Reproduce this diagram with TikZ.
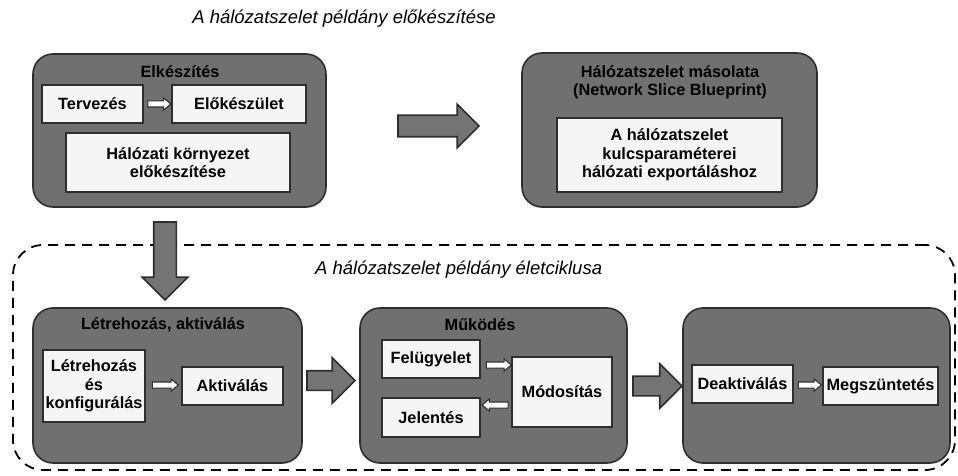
\documentclass[tikz,border=0pt]{standalone}
\usepackage{fontspec}
\setmainfont{Liberation Sans}
\usetikzlibrary{shapes.arrows,calc}

\definecolor{grpc}{HTML}{707070}
\definecolor{edgec}{HTML}{2E2E2E}
\definecolor{inc}{HTML}{F5F5F5}
\definecolor{arrc}{HTML}{747474}

\tikzset{
  txt/.style={font=\bfseries\fontsize{16.3}{18.5}\selectfont},
  grp/.style={draw=edgec, fill=grpc, line width=1.6pt, rounded corners=20pt, inner sep=0pt},
  inb/.style={txt, draw=edgec, fill=inc, line width=1.6pt, inner sep=0pt, align=center},
  ttl/.style={txt, align=center, inner sep=0pt},
  heading/.style={font=\itshape\fontsize{18.5}{22}\selectfont, inner sep=0pt},
  lifebox/.style={draw=black, line width=1.8pt, dash pattern=on 10pt off 7pt, rounded corners=30pt, inner sep=0pt},
  bigarr/.style={single arrow, draw=edgec, fill=arrc, line width=1.6pt,
    single arrow tip angle=90, inner xsep=0pt, inner ysep=#1, outer sep=0pt, anchor=tail},
  bigarr/.default=10pt,
  downarr/.style={single arrow, draw=edgec, fill=arrc, line width=1.6pt,
    single arrow tip angle=90, inner xsep=#1, inner ysep=0pt, outer sep=0pt,
    shape border rotate=270, anchor=tail},
  smallarr/.style={single arrow, draw=edgec, fill=white, line width=1.1pt,
    single arrow tip angle=80, single arrow head extend=3pt,
    inner xsep=0pt, inner ysep=2.5pt, outer sep=0pt},
}

\begin{document}
\begin{tikzpicture}[x=1pt,y=-1pt]
\useasboundingbox (0,0) rectangle (958,476);

% headings
\node[heading] (h1) at (344,19) {A hálózatszelet példány előkészítése};

% preparation group
\node[grp, minimum width=293pt, minimum height=153pt] (elk) at (179.5,130.5) {};
\node[ttl] (elkT) at (180,72) {Elkészítés};
\node[inb, minimum width=101pt, minimum height=38pt] (terv) at (92.5,104) {Tervezés};
\node[inb, minimum width=134pt, minimum height=38pt] (elok) at (239,104) {Előkészület};
\node[inb, minimum width=224pt, minimum height=59pt] (halo) at (178,162.5) {Hálózati környezet\\előkészítése};
\node[smallarr, minimum height=23pt] at ($(terv.east)!.5!(elok.west)$) {};

% blueprint group
\node[grp, minimum width=295pt, minimum height=154pt] (blue) at (669.5,130) {};
\node[ttl] (blueT) at (670,82) {Hálózatszelet másolata\\(Network Slice Blueprint)};
\node[inb, minimum width=225pt, minimum height=74pt] (blueIn) at (669.5,155)
  {A hálózatszelet\\kulcsparaméterei\\hálózati exportáláshoz};

% big arrow between the groups
\node[bigarr, single arrow head extend=11pt, minimum height=81pt] (a1) at (398,126) {};

% lifecycle frame
\node[lifebox, minimum width=942pt, minimum height=225pt] (life) at (484,357.5) {};
\node[heading, anchor=west] (h2) at (315,270) {A hálózatszelet példány életciklusa};

% arrow from preparation into the lifecycle
\node[downarr=10.5pt, single arrow head extend=11.5pt, minimum height=78pt] (a2) at (165,222) {};

% creation / activation
\node[grp, minimum width=269pt, minimum height=155pt] (letre) at (167.5,385.5) {};
\node[ttl] (letreT) at (163,325) {Létrehozás, aktiválás};
\node[inb, minimum width=102pt, minimum height=72pt] (lk) at (94,386) {Létrehozás\\és\\konfigurálás};
\node[inb, minimum width=101pt, minimum height=38pt] (akt) at (232.5,386) {Aktiválás};
\node[smallarr, minimum height=26pt] at ($(lk.east)!.5!(akt.west)+(0,-1)$) {};

% operation
\node[grp, minimum width=267pt, minimum height=155pt] (muk) at (493.5,385.5) {};
\node[ttl] (mukT) at (480,325) {Működés};
\node[inb, minimum width=98pt, minimum height=38pt] (fel) at (431,359) {Felügyelet};
\node[inb, minimum width=98pt, minimum height=39pt] (jel) at (431,417.5) {Jelentés};
\node[inb, minimum width=100pt, minimum height=70pt] (mod) at (562,392) {Módosítás};
\coordinate (fm) at (mod.west |- fel.east);
\coordinate (mj) at (mod.west |- jel.east);
\node[smallarr, minimum height=25pt] at ($(fel.east)!.5!(fm)+(1,6)$) {};
\node[smallarr, minimum height=26pt, shape border rotate=180] at ($(jel.east)!.5!(mj)+(1,-12.5)$) {};

% deactivation / termination
\node[grp, minimum width=267pt, minimum height=155pt] (deak) at (816.5,385.5) {};
\node[inb, minimum width=101pt, minimum height=38pt] (dea) at (742.5,384) {Deaktiválás};
\node[inb, minimum width=115pt, minimum height=38pt] (meg) at (880.5,386) {Megszüntetés};
\node[smallarr, minimum height=23pt] at ($(dea.east)!.5!(meg.west)$) {};

% big arrows between the lifecycle stages
\node[bigarr=9pt, single arrow head extend=13pt, minimum height=48pt] (a3) at (307,380.5) {};
\node[bigarr=9pt, single arrow head extend=12.5pt, minimum height=49pt] (a4) at (633,386) {};
\end{tikzpicture}
\end{document}
